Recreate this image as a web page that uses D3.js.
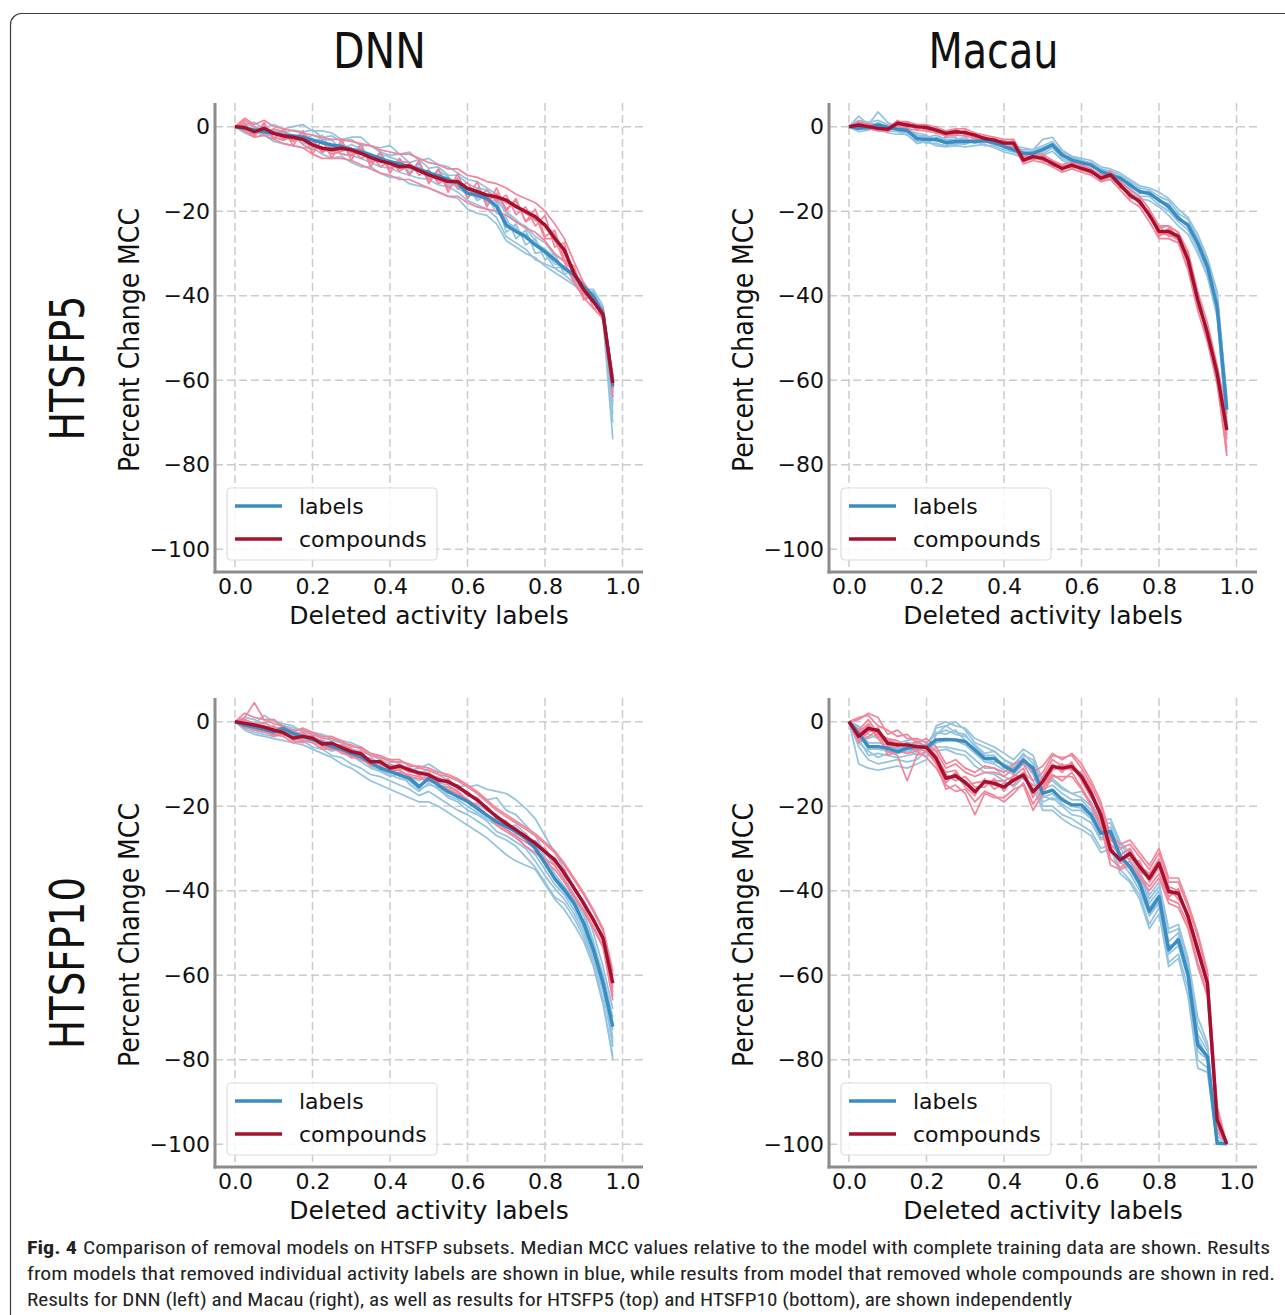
<!DOCTYPE html>
<html>
<head>
<meta charset="utf-8">
<script src="https://cdn.jsdelivr.net/npm/d3@7"></script>
<style>
  html, body { margin: 0; padding: 0; background: #fff; }
  svg { display: block; }
</style>
</head>
<body>
<script>
// ---------- DATA ----------
const fracs = [0,0.025,0.05,0.075,0.1,0.125,0.15,0.175,0.2,0.225,0.25,0.275,0.3,0.325,0.35,0.375,0.4,0.425,0.45,0.475,0.5,0.525,0.55,0.575,0.6,0.625,0.65,0.675,0.7,0.725,0.75,0.775,0.8,0.825,0.85,0.875,0.9,0.925,0.95,0.975];
const xTicks = [0, 0.2, 0.4, 0.6, 0.8, 1.0];
const yTicks = [0, -20, -40, -60, -80, -100];
const colTitles = ["DNN", "Macau"];
const rowTitles = ["HTSFP5", "HTSFP10"];
const legendLabels = ["labels", "compounds"];
const xLabel = "Deleted activity labels";
const yLabel = "Percent Change MCC";

// DNN / HTSFP5
const dnn5LabelsMedian = [0,-0.4,-0.8,-1.2,-1.6,-2,-2.2,-2.5,-3.2,-3.8,-4.3,-4.7,-5.4,-5.9,-6.7,-7.5,-8.3,-8.8,-9.5,-10.1,-10.9,-11.7,-12.5,-13.4,-15.8,-16.2,-17,-18.9,-23.3,-24.8,-26,-28,-29.6,-31.5,-33.5,-35.1,-37.9,-40.2,-44.2,-61.5];
const dnn5CompoundsMedian = [0,-0.2,-1.2,-0.4,-1.6,-2.2,-2.5,-3,-4.3,-5.1,-5.4,-5.1,-5.5,-6.3,-7.3,-8.1,-8.7,-9.5,-9.3,-10.4,-11.4,-12.2,-13,-13,-14.6,-15.4,-16.2,-16.6,-17.4,-18.9,-20.1,-21.3,-23.3,-26.4,-29.2,-34.7,-38.6,-41.4,-44.6,-60.7];
const dnn5LabelsRuns = [
  [0,0.5,1,-0.5,0.5,-0.5,0,0.5,-1,-1,-1.5,-3,-2.5,-2.5,-4.5,-5,-4.5,-6.5,-6,-8,-7.5,-9,-9.5,-11,-12.5,-13,-14.5,-16,-20,-22,-24,-27,-30,-33.5,-33,-36.5,-39.5,-40,-46,-74],
  [0,-1.5,-2.5,-2,-3.5,-4,-4.5,-5,-5,-6.5,-7.5,-7,-8.5,-9.5,-9.5,-11,-12,-12,-13.5,-14,-14.5,-15.5,-16.5,-17,-19.5,-20.5,-21,-23,-27,-28.5,-30,-31,-33,-34.5,-36,-37.5,-39.5,-41.5,-45,-68],
  [0,0.5,-2,0,-3,-0.5,-3.5,-1,-5,-2,-6,-3.5,-7,-4.5,-8.5,-6,-10,-7.5,-11.5,-8.5,-13,-10,-14,-12,-17,-14.5,-18.5,-17,-25,-23,-28,-26.5,-31.5,-30,-35,-33.5,-39.5,-39,-43.5,-65],
  [0,0.2,-1.5,-1,-1,-2.8,-2.5,-1.5,-3,-4,-5,-4.5,-5.8,-6.2,-7,-8,-8.8,-8.5,-10,-10,-11,-12,-12,-14.5,-16,-16,-17.5,-18,-22.5,-24,-26.5,-27.5,-29,-31,-34,-35,-37,-40.5,-44,-62],
  [0,-0.5,-0.8,-1.8,-1.5,-2.2,-3,-2.8,-2.8,-3.8,-4.5,-4.2,-5.2,-5.5,-6.5,-7.8,-8,-9,-9.8,-9.8,-11.2,-11.5,-12.8,-13.2,-15.2,-16.8,-16.5,-19,-23.8,-24.5,-25.5,-28.2,-29.5,-31.5,-33.2,-35.8,-38,-39.5,-43.5,-63],
  [0,0.8,-0.2,-0.5,-0.8,-1.5,-0.8,-1.2,-0.8,-2.5,-2.2,-3.5,-3,-4.5,-4.5,-6,-6.8,-6.5,-8.5,-7.8,-9.8,-9.5,-11.5,-11.5,-13.5,-14.5,-15,-17,-20.5,-22.5,-23.5,-26,-27.5,-30.5,-31.5,-34.5,-37,-41,-44,-70],
  [0,-1.2,-1.8,-0.8,-2.5,-3.2,-2.5,-3.8,-4.5,-5.2,-5.8,-6.5,-6.8,-7.5,-8.5,-9.5,-9.8,-10.8,-11.5,-12.2,-12.5,-13.8,-14.2,-15.5,-17.5,-18.5,-19.5,-21.5,-26,-27.5,-29,-31.5,-32.5,-33.5,-35,-37,-39.5,-41.5,-45.5,-66],
  [0,-0.2,-1,-2.2,-1.8,-1.2,-2,-3.2,-2,-3,-3.2,-5.5,-4.2,-5.2,-7.8,-6.5,-7.2,-8,-10.8,-9,-12,-10.5,-11.8,-14.8,-14.5,-17.5,-16.2,-20.5,-21.5,-26.5,-24.5,-30,-29.5,-32.5,-33,-36,-38.5,-38.5,-42.5,-64]
];
const dnn5CompoundsRuns = [
  [0,2,0.5,1.5,0,-0.5,-1,-1.5,-2,-2.5,-3,-3,-3.5,-4,-4.5,-5.5,-6,-6.5,-6.5,-7.5,-8.5,-9,-10,-10,-11.5,-12,-13,-13.5,-14.5,-16,-17,-18,-20,-23,-26.5,-32,-37,-40,-44,-59],
  [0,-1,-2.5,-2,-3,-4,-4.5,-5,-6.5,-7.5,-7.5,-7.5,-8,-9,-10,-11,-11.5,-12.5,-12.5,-13.5,-14.5,-15.5,-16.5,-16.5,-18,-19,-19.5,-20,-21,-22.5,-24,-25,-27,-30,-32,-37,-40.5,-43,-45.5,-62],
  [0,1,-2.5,1,-3,-0.5,-4.5,-1,-6.5,-3,-7.5,-3,-8,-4,-9.5,-6,-11,-7.5,-11.5,-8,-13.5,-10,-15.5,-11,-17,-13,-19,-14.5,-20,-17,-22.5,-19.5,-26,-24.5,-31.5,-33,-40.5,-40,-45.5,-62],
  [0,0.2,-1.5,-0.2,-1.2,-2,-3.2,-2.8,-4,-5.5,-5.8,-4.8,-5.8,-6,-7.8,-8.2,-8.5,-9.8,-8.8,-10.2,-11,-12.8,-12.8,-12.5,-15,-15.2,-16,-16.2,-18,-19,-20.5,-22,-23,-27,-29.8,-34,-39.5,-41,-45,-63],
  [0,-0.2,-1,-0.8,-1.8,-2.4,-2.6,-3.2,-4.6,-5.2,-5.6,-5.4,-5.2,-6.6,-7.4,-7.8,-8.9,-9.4,-9.6,-10.6,-11.2,-12.4,-13.2,-13.4,-14.4,-15.6,-16.4,-16.8,-17.6,-18.6,-20.4,-21.6,-23.6,-26.2,-28.8,-35,-38.2,-41.8,-44.2,-59],
  [0,1.5,0,-1.5,-0.5,-1.2,-3.5,-2,-3.2,-6.2,-4.5,-6.5,-6.8,-5.2,-8.5,-7,-10,-8.2,-8.5,-11.5,-10.2,-13.5,-12,-14.5,-13.2,-16.8,-15,-17.8,-16.2,-20.8,-19,-23.5,-21,-28.5,-27.5,-36.5,-37,-43,-43,-60],
  [0,-0.8,-2,0.2,-2.5,-3.2,-2,-4.2,-5.5,-4.8,-6.5,-5.8,-5,-7.5,-6.5,-9.5,-8.2,-10.5,-9.2,-9.8,-12.5,-11.2,-14.5,-13,-16,-15,-17.8,-15.8,-19.5,-17.5,-22.5,-21,-26.5,-26.5,-32,-34.2,-41,-40,-46,-64],
  [0,0.2,-0.8,-1.2,-1.5,-2.8,-2.8,-2.2,-4.2,-5.8,-5.2,-4.2,-6.2,-6.2,-7.2,-8.5,-8.2,-9.8,-9.5,-10.2,-11.2,-12.2,-13.2,-12.8,-14.8,-15.8,-16.2,-17.2,-17.2,-19.2,-20.2,-22.2,-23.2,-25.5,-30,-35.2,-38.8,-41.2,-44.8,-62]
];

// Macau / HTSFP5
const macau5LabelsMedian = [0,-0.4,-0.2,0.4,-0.2,-0.6,-0.9,-2.8,-3,-3,-3.8,-3.5,-3.5,-3.5,-3.3,-3.8,-4.7,-5.5,-6.3,-6.3,-5.4,-4.3,-6.7,-7.9,-8.5,-9.1,-10.6,-11.4,-12.2,-13.8,-15.4,-15.8,-17.4,-18.9,-21.7,-23.3,-27.6,-33.1,-42.6,-67];
const macau5CompoundsMedian = [0,0.4,0,-0.4,-0.6,0.8,0.4,0,-0.2,-0.8,-1.6,-1.2,-1.4,-2,-2.8,-3.2,-3.9,-3.9,-7.9,-7.1,-7.5,-8.7,-9.9,-9.1,-9.9,-10.6,-12.2,-11.4,-13.8,-16.2,-17.7,-20.9,-24.8,-24.8,-26,-31.5,-41,-48.9,-58.4,-71.8];
const macau5LabelsRuns = [
  [0,2.5,0.5,3.5,1,0,-0.5,-2,-2.5,-2,-3,-3,-2.5,-4,-2.5,-3,-4,-5,-5.5,-5.5,-4.5,-3.5,-6,-7,-8,-8.5,-10,-10.5,-11.5,-13,-14.5,-15,-16.5,-17.5,-20.5,-22,-26.5,-31.5,-40,-65],
  [0,-0.8,0.5,-0.5,-1,-1.2,-2,-3.5,-3.8,-4,-4.5,-4,-4.2,-3,-4.5,-4.5,-5.5,-6,-7,-7,-6.5,-5,-7.5,-8.5,-9,-10,-11.5,-12,-13,-14.5,-16.5,-16.5,-18.5,-20,-22.5,-24.5,-29,-34.5,-44,-70],
  [0,0.5,-0.8,1,0,-1,-1.5,-2.5,-4,-2.5,-3.2,-4.2,-3,-3.8,-3.8,-3.2,-5,-4.8,-6,-6.8,-6,-4,-6.2,-8.2,-7.8,-9.5,-10.2,-11,-12.8,-13.2,-15.8,-15.2,-17.8,-18.5,-21,-23.8,-27,-32.8,-43,-68],
  [0,-0.2,0,0.8,-0.5,0.2,-1.2,-3.2,-2.8,-3.5,-3.5,-3.2,-4,-3.2,-3,-4.2,-4.2,-5.8,-6.5,-6,-5,-4.8,-7,-7.5,-8.8,-8.8,-11,-11.8,-12,-14.2,-15,-16.2,-17,-19.5,-22,-23,-28,-33.5,-42,-66],
  [0,-0.5,-0.5,0.2,-0.8,-0.4,-0.6,-2.6,-3.4,-3.2,-4,-3.8,-3.6,-3.4,-3.6,-4,-4.8,-5.2,-6,-6.6,-5.8,-4.6,-6.4,-8,-8.2,-9.4,-10.4,-11.6,-12.4,-13.6,-15.2,-16,-17.2,-19,-21.4,-23.6,-27.8,-33.4,-43.4,-72],
  [0,1.5,1,1.5,0.5,0.5,-1,-1.5,-2,-3.5,-2.5,-2.5,-4,-2.5,-3,-3.5,-4.5,-4.5,-5,-5.5,-3,-2.5,-5.5,-7,-7.5,-8,-9.5,-10,-11,-12.5,-14,-14.5,-15.5,-17,-19.5,-21.5,-25.5,-31,-39,-64],
  [0,-1.2,-0.8,-0.2,-1.5,-1.8,-1.8,-4,-3.5,-4.5,-4.8,-4.5,-4.8,-4.5,-4.2,-5,-6,-6.5,-7.5,-7.5,-6.8,-5.8,-8,-9,-9.5,-10.5,-12,-12.5,-13.8,-15.5,-17,-17.5,-19,-21,-23.5,-25.5,-30,-35.5,-45,-71],
  [0,-0.2,0.8,0.5,0.2,-0.8,-0.2,-2.2,-2.2,-3,-3.5,-3,-3,-3.8,-3,-4.5,-4.2,-5,-6.2,-6,-5,-4,-6.8,-7.2,-8.5,-9,-10.8,-11,-12,-14,-15.2,-15.5,-17.5,-18.2,-21.8,-23,-27.2,-32.5,-42.5,-67]
];
const macau5CompoundsRuns = [
  [0,1,0.5,0,-1,1.5,0,0.5,-1,-0.5,-2.5,-0.5,-2,-1.5,-3.5,-2.5,-4.5,-3.5,-8.5,-6.5,-8,-8,-10.5,-8.5,-10.5,-10,-13,-11,-14.5,-15.5,-18.5,-20,-26,-24,-27,-30,-43,-47,-60,-76],
  [0,-0.5,0.8,-1,0,0.2,1,-0.8,0.5,-1.5,-1,-2,-0.8,-2.8,-2.2,-4,-3.5,-4.5,-7.5,-7.8,-7,-9.5,-9.2,-9.8,-9.5,-11.2,-11.5,-12,-13.2,-17,-17,-21.5,-23.5,-26,-25.2,-33,-39.5,-50.5,-57,-70],
  [0,0.8,-0.5,-0.2,-1.2,1,-0.2,0.2,-0.8,0,-1.8,-1.8,-1,-2.2,-3,-3,-4.2,-3.2,-8.2,-7.5,-6.8,-9,-10,-9.5,-9.2,-10.2,-12.8,-11.8,-14,-16.5,-17.2,-21,-25.5,-25.5,-26.8,-32.5,-41.5,-48,-59.5,-78],
  [0,0.2,0.2,-0.8,-0.2,0.5,0.8,-0.5,0.2,-1.2,-1.2,-0.8,-1.8,-2.5,-2.5,-3.5,-3.2,-4.2,-7.2,-6.8,-8.2,-8.2,-9.5,-8.8,-10.2,-11,-11.8,-10.8,-13.5,-16,-18,-20.5,-24,-23.5,-26.5,-31,-40.5,-49.5,-58,-73],
  [0,0.6,0,-0.2,-0.8,0.6,0.2,0.2,-0.4,-1,-1.4,-1.4,-1.6,-1.8,-2.6,-3.4,-3.8,-4,-7.6,-7.4,-7.8,-8.4,-9.6,-9.4,-9.8,-10.8,-12.4,-11.2,-14.2,-16.4,-17.4,-20.6,-25,-25.2,-25.6,-31.8,-42,-48.4,-58.8,-69],
  [0,1.2,0.5,0.5,-0.2,1.2,1.2,0.5,0.5,-0.2,-1,-0.5,-0.5,-1.5,-2,-2.5,-3,-3,-7,-6.5,-6.5,-8,-9,-8.5,-9,-10,-11.5,-10.5,-13,-15,-16.5,-19.5,-23.5,-23.5,-25,-29.5,-39,-46.5,-56.5,-68],
  [0,-0.2,-0.5,-1,-1.2,0.2,-0.5,-0.8,-1,-1.5,-2.2,-2,-2.2,-2.8,-3.5,-4,-4.8,-4.8,-8.8,-8,-8.5,-9.5,-10.8,-10,-10.8,-11.5,-13,-12.5,-15,-17.5,-19,-22.5,-26.5,-26.5,-27.5,-34,-43.5,-51,-61,-77],
  [0,0.5,0.2,-0.5,-0.5,0.8,0.5,0,0,-0.8,-1.5,-1.2,-1.2,-2,-2.8,-3,-3.8,-3.5,-8,-7,-7.2,-8.8,-9.8,-9.2,-10,-10.5,-12,-11.5,-14,-16,-18,-21,-25,-24.5,-26.2,-31,-40.2,-49,-58.2,-74]
];

// DNN / HTSFP10
const dnn10LabelsMedian = [0,-0.8,-1.3,-1.8,-2.4,-1.6,-2.8,-3.5,-4.2,-5,-5.9,-6.5,-7.5,-8.3,-9.7,-11,-11.8,-12.6,-13.4,-15.4,-13.4,-15,-16.6,-17.7,-18.9,-20.5,-22.1,-23.7,-24.8,-26,-27.6,-30,-33.5,-37.1,-39.8,-43,-47.7,-54,-61.9,-72.2];
const dnn10CompoundsMedian = [0,-0.4,-0.8,-1.3,-2,-2.6,-3.9,-3.5,-3.9,-5.3,-5.1,-6.1,-7.1,-7.6,-9.5,-9.5,-11,-10.5,-11.4,-12.1,-12.6,-13.8,-14.2,-15.4,-17,-18.5,-20.5,-22.5,-24.1,-25.6,-27.2,-28.8,-30.8,-32.7,-35.9,-39.4,-43,-46.9,-51.3,-61.9];
const dnn10LabelsRuns = [
  [0,0.5,-0.5,1.5,0,-0.5,-1,-2.5,-3,-3.5,-4.5,-5,-6.5,-7,-8,-9,-10,-11,-11,-12,-11.5,-12.5,-14,-15.5,-15,-17,-18.5,-18,-21,-22,-24.5,-27,-31,-34,-37,-41,-45,-52,-60,-70],
  [0,-1.5,-2.5,-3,-3.5,-3,-4,-4.5,-6,-6.5,-8,-8.5,-10,-11,-12.5,-13,-14,-15,-16,-17.5,-16.5,-18,-19.5,-21,-22,-23.5,-25,-27,-28,-29.5,-32,-34.5,-38,-41.5,-43,-46.5,-51,-57,-66,-80],
  [0,-0.5,-1,-1,-2,-1,-2,-3.5,-3.5,-4.5,-5,-7,-6.5,-9,-8.5,-10,-11.5,-11.5,-13,-14,-12.5,-14.5,-15,-16.5,-19,-19.5,-21,-22.5,-25,-24.5,-26.5,-29,-32,-36,-39,-42,-46,-53,-61,-75],
  [0,-1,-2,-2.5,-1.5,-2.5,-3.5,-3,-5,-5.5,-6.5,-6,-8.5,-8,-10.5,-11.5,-12.5,-13.5,-14,-16,-15,-15.5,-17.5,-18.5,-20,-21.5,-23,-24.5,-26,-27,-29.5,-31.5,-35,-38.5,-41,-44.5,-49,-55.5,-63,-73],
  [0,-0.2,-0.8,-1.5,-2.8,-1.8,-2.5,-4,-4.5,-5.2,-6.2,-6.8,-7.2,-8.8,-9.5,-11.5,-11.2,-13,-12.8,-15,-14,-14.8,-16.2,-18,-18.5,-20.8,-22.5,-23.2,-24.5,-26.5,-27.2,-30.5,-33,-37.5,-40.5,-43.5,-48,-54.5,-62.5,-77],
  [0,1,0.5,-0.5,0.5,-1,-1.5,-2,-2.5,-3,-4,-4.5,-5,-6,-7.5,-8.5,-9,-10,-11.5,-11,-10,-11.5,-13,-14,-15.5,-15,-16,-16.5,-17,-18.5,-20.5,-23,-27,-31,-35,-39,-43.5,-50,-58,-68],
  [0,-2,-3,-3.5,-4,-4.5,-5,-5.5,-6.5,-7.5,-8.5,-10,-11,-12.5,-14,-15,-16,-17,-18,-19,-19,-20,-21.5,-23,-24.5,-26,-27.5,-29.5,-31.5,-33,-34,-35,-38.5,-42,-44.5,-48,-52,-58,-67,-79],
  [0,-0.8,-1.8,-2.2,-3,-2.2,-3.2,-3.2,-4,-5.8,-7,-6.2,-8,-9.5,-11,-11.8,-13,-12.2,-14.8,-16.5,-14.5,-16,-18,-19,-21,-22,-23.5,-26,-27,-28.5,-30,-33,-36.5,-39.5,-42,-45.5,-50,-56,-64,-76]
];
const dnn10CompoundsRuns = [
  [0,1,4.5,0.5,0.5,-1.5,-2,-2,-3,-4,-4,-5,-5.5,-6.5,-8,-8.5,-9.5,-9.5,-10,-11,-11.5,-12.5,-13,-14,-15.5,-17,-19,-21,-22.5,-24,-25.5,-27,-29,-31,-34,-37.5,-41,-45,-49.5,-60],
  [0,-1,-2,-2.5,-3,-3.5,-5,-4.5,-5,-6.5,-6.5,-7,-8.5,-8.5,-10.5,-10.5,-12,-12,-12.5,-13,-13.5,-15,-15.5,-16.5,-18.5,-20,-22,-24,-25.5,-27,-28.5,-30,-32.5,-34,-37.5,-41,-44.5,-48.5,-53,-64],
  [0,0.5,-0.5,-0.2,-1.5,-1.5,-3,-2.5,-4.5,-4.5,-6,-5.5,-6.5,-8,-8.8,-10.2,-10.2,-11.2,-11,-12.8,-12,-14.5,-13.5,-16,-16.5,-19,-20,-23,-23.5,-26.2,-26.5,-29.5,-30,-33.5,-35,-40,-42.5,-47.5,-50.5,-63],
  [0,-0.2,-1.2,-2,-1.8,-2.2,-4.2,-4,-3.2,-5.8,-4.8,-6.5,-7.8,-7.2,-9.8,-9,-11.5,-10.8,-12,-11.8,-13,-13.2,-14.8,-15,-17.5,-18,-21,-22,-24.5,-25.2,-27.8,-28.2,-31.2,-32.2,-36.5,-39,-43.5,-46.5,-52,-62],
  [0,-0.6,-0.4,-1,-2.4,-3,-3.6,-3.2,-4.2,-5,-5.4,-6.4,-6.8,-7.8,-9.2,-9.8,-10.6,-10.2,-11.8,-12.4,-12.2,-14,-14.4,-15.2,-17.2,-18.8,-20.2,-22.8,-24,-25.8,-27,-29.2,-31,-32.8,-35.6,-39.8,-43.2,-47.2,-51.6,-65],
  [0,2,1,0.5,-0.5,-1,-2.5,-1.5,-2.5,-3.5,-3.5,-4.5,-6,-6,-7.5,-8,-9,-9,-10.5,-10.5,-11,-12,-12.5,-13.5,-15,-16.5,-18.5,-20.5,-22,-23.5,-25,-26.5,-28.5,-30.5,-33.5,-37,-40.5,-44.5,-49,-59],
  [0,-1.5,-1.5,-2,-3.5,-2.5,-4.5,-5,-4,-6,-6,-7.5,-8,-9,-10,-11,-11.5,-11.5,-13,-13.5,-14,-15,-16,-17,-18.5,-20,-22,-24.5,-26,-27.5,-29.5,-31,-33,-35,-38,-41.5,-45,-49,-53.5,-66],
  [0,0.2,-1,-1.5,-1,-3,-3.5,-3,-3.5,-5.5,-5,-6,-7.5,-7,-9.5,-9.2,-11,-10.5,-11,-12.5,-12.2,-13.5,-14.5,-15.8,-17,-18.2,-21,-22.5,-23.8,-26,-27.5,-28.5,-30.5,-32.5,-36.2,-39.2,-42.8,-46.8,-51,-62]
];

// Macau / HTSFP10
const macau10LabelsMedian = [0,-2.8,-5.9,-5.9,-6.3,-7.1,-6.3,-5.9,-6.1,-4.3,-4.2,-4.3,-4.7,-6.7,-8.7,-8.7,-10.5,-11.8,-9.1,-11,-17,-16.2,-18.5,-19.7,-19.7,-22.1,-26.4,-26,-31.9,-34.3,-38.2,-44.9,-41.4,-54,-51.6,-59.9,-76.5,-79.3,-99.8,-99.9];
const macau10CompoundsMedian = [0,-3.5,-1.6,-2.1,-5.1,-5.5,-5.5,-5.9,-6.1,-8.7,-13.4,-12.8,-14.4,-16.6,-14.2,-14.6,-15.5,-13.8,-12.6,-16.6,-14.2,-10.6,-11,-10.6,-13,-17,-22.1,-30.4,-32.7,-31.2,-34.3,-37.1,-33.5,-40.2,-40.6,-46.1,-54,-61.9,-94.2,-99.9];
const macau10LabelsRuns = [
  [0,-10,-11,-11.5,-11,-10.5,-11,-10,-9,-3,-1,0,-2,-5,-6,-7,-9,-10,-8,-9,-15,-14,-16,-17,-18,-20,-24,-24,-29,-32,-36,-42,-39,-50,-49,-57,-72,-77,-99,-100],
  [0,-1,-3,-4,-5,-5,-4.5,-4,-5,-3,-2,-3,-3.5,-5.5,-7.5,-7,-9,-10.5,-7.5,-10,-16,-15,-17,-18.5,-18.5,-21,-25,-25,-30,-33,-37,-43,-40,-52,-50,-58,-74,-78,-99,-100],
  [0,-4,-8,-7.5,-8,-8.5,-8,-7.5,-8,-6,-6,-6.5,-7,-9,-11,-11,-13,-14,-12,-14,-20,-20,-22,-23,-24.5,-26,-30,-29,-35,-37.5,-41,-48,-44,-57,-55,-63,-80,-82,-100,-100],
  [0,-2,-5,-5,-5.5,-6.5,-6,-5.5,-6.5,-1.5,-1,-2.5,-3,-6,-8,-8,-11,-11,-8.5,-12,-19,-18,-20,-22,-22.5,-24,-28,-27,-33,-36,-40,-46,-43,-55,-53,-61,-78,-80,-100,-100],
  [0,-3,-6.5,-6.5,-7,-7.5,-7,-6.5,-7,-5,-4.5,-4.5,-5.5,-7.5,-9.5,-10,-11.5,-12.5,-10,-11.5,-18,-17,-19.5,-21,-21,-23,-27.5,-26.5,-32.5,-35,-39,-45.5,-42.5,-53,-52.5,-60.5,-76,-79,-99.5,-100],
  [0,-6,-9,-10,-9.5,-9,-9.5,-9,-7,-1,0,-1,-1.5,-4,-5,-6,-7.5,-9,-6.5,-8,-14,-13.5,-15.5,-17,-16.5,-19,-23.5,-23,-28.5,-31,-35,-41,-38,-49,-48,-56,-70,-76,-98,-100],
  [0,-1.5,-4,-3,-4,-5.5,-5,-5,-6,-7,-6.5,-7.5,-8,-10.5,-12,-12.5,-14,-15.5,-13,-15.5,-21,-21,-23,-24.5,-25.5,-27,-31,-30,-36,-38,-42,-49,-45.5,-58,-56,-65,-82,-83,-100,-100],
  [0,-5,-7,-8.5,-7.5,-6,-6.5,-8,-5,-2.5,-3,-2,-4.5,-7,-9,-9.5,-10,-11,-9.5,-12.5,-17.5,-18.5,-18,-20,-20.5,-22.5,-26.5,-27.5,-31,-34.5,-37.5,-44,-41,-54.5,-51,-59.5,-75,-79.5,-99.5,-100]
];
const macau10CompoundsRuns = [
  [0,0.5,2,1,-3,-2,-4,-4,-5,-7,-11,-10,-12,-13,-12,-12,-13,-11,-10,-14,-12,-8,-8.5,-8,-11,-15,-20,-28,-30,-29,-32,-35,-31,-38,-38,-44,-51,-60,-92,-100],
  [0,-3,-1,-4,-7,-8,-14,-8,-7,-10,-16,-15,-17,-22,-17,-18,-18,-16,-15,-21,-17,-13,-13,-13,-16,-20,-25,-34,-35,-34,-37,-40,-37,-43,-44,-49,-58,-65,-96,-100],
  [0,-2,0.5,-3,-4,-4.5,-6,-7,-5.5,-8,-12.5,-14,-13,-15.5,-15.5,-13.5,-16.5,-12.5,-13.5,-15,-15.5,-11.5,-10,-11.5,-12,-16,-23,-31,-32,-32.5,-33,-38,-34.5,-41.5,-39.5,-47,-55,-62,-95,-100],
  [0,-4.5,-2.5,-1.5,-6,-6,-5,-6.5,-7,-9.5,-14.5,-12,-15.5,-17.5,-13.5,-16,-14.5,-15,-12,-18,-13.5,-10,-12,-9.5,-14,-18,-21,-29.5,-33.5,-30.5,-35.5,-36.5,-33,-39.5,-42,-45.5,-53.5,-61,-93,-100],
  [0,-3.8,-2,-2.5,-5.5,-5.2,-5.8,-5.6,-6.4,-9,-13,-13.2,-14,-16.2,-14.6,-15,-15.2,-14.2,-12.8,-16.2,-14.6,-11,-11.4,-11,-13.4,-17.4,-22.6,-30,-33,-31.6,-34.8,-37.6,-34,-40.6,-41,-46.6,-54.6,-62.4,-94.6,-100],
  [0,1,1.5,-1,-2,-3.5,-3,-5,-4,-6,-10,-9,-11,-12,-10.5,-11,-12,-10,-9,-12,-10.5,-7.5,-9,-7.5,-10,-14,-19,-27,-29,-28,-31,-34,-30,-37,-37,-43,-50,-59,-91,-100],
  [0,-5,-3.5,-2,-8,-7,-7.5,-7,-8.5,-11,-15,-16.5,-16,-19,-16.5,-17.5,-19,-17,-14.5,-19.5,-16,-12.5,-14,-12,-15.5,-19.5,-24,-32.5,-34.5,-33,-36.5,-39,-36,-42,-43,-48,-57,-64,-97,-100],
  [0,-2.5,-0.5,-3.5,-4.5,-5,-6.5,-4.5,-6,-8.5,-12,-11.5,-15,-14.5,-14,-14,-14,-13,-11,-17,-13,-9,-10.5,-10,-12.5,-16.5,-21.5,-29,-31.5,-30,-34,-36,-32.5,-39,-40,-46,-53,-61,-93.5,-100]
];

const captionBold = "Fig. 4";
const captionLines = [
  "Comparison of removal models on HTSFP subsets. Median MCC values relative to the model with complete training data are shown. Results",
  "from models that removed individual activity labels are shown in blue, while results from model that removed whole compounds are shown in red.",
  "Results for DNN (left) and Macau (right), as well as results for HTSFP5 (top) and HTSFP10 (bottom), are shown independently"
];

// ---------- LAYOUT / STYLE ----------
const W = 1285, H = 1315;
const PW = 428, PH = 469;
const panelLeft = [215, 829];
const panelTop = [103, 698];
const C = {
  blueMed: "#3a8dc2", redMed: "#a6102f",
  blueRun: "#93c3df", redRun: "#f2849a",
  grid: "#cccccc", spine: "#8c8c8c"
};
const FONT = "'DejaVu Sans', Verdana, sans-serif";

const panels = [
  {r:0, c:0, lm: dnn5LabelsMedian, cm: dnn5CompoundsMedian, lr: dnn5LabelsRuns, cr: dnn5CompoundsRuns},
  {r:0, c:1, lm: macau5LabelsMedian, cm: macau5CompoundsMedian, lr: macau5LabelsRuns, cr: macau5CompoundsRuns},
  {r:1, c:0, lm: dnn10LabelsMedian, cm: dnn10CompoundsMedian, lr: dnn10LabelsRuns, cr: dnn10CompoundsRuns},
  {r:1, c:1, lm: macau10LabelsMedian, cm: macau10CompoundsMedian, lr: macau10LabelsRuns, cr: macau10CompoundsRuns}
];

const svg = d3.select("body").append("svg")
  .attr("width", W).attr("height", H)
  .attr("font-family", FONT);

svg.append("rect").attr("x", 0).attr("y", 0).attr("width", W).attr("height", H).attr("fill", "#fff");
svg.append("rect")
  .attr("x", 10.5).attr("y", 13.5).attr("width", 1400).attr("height", 1400)
  .attr("rx", 11).attr("fill", "none").attr("stroke", "#3a3a3a").attr("stroke-width", 1.2);

const x = d3.scaleLinear().domain([-0.0516, 1.0529]).range([0, PW]);
const y = d3.scaleLinear().domain([-105.4, 5.6]).range([PH, 0]);
const line = d3.line().x((d, i) => x(fracs[i])).y(d => y(d));

panels.forEach(p => {
  const g = svg.append("g").attr("transform", `translate(${panelLeft[p.c]},${panelTop[p.r]})`);

  // grid
  g.append("g").selectAll("line").data(xTicks).join("line")
    .attr("x1", d => x(d)).attr("x2", d => x(d)).attr("y1", 0).attr("y2", PH)
    .attr("stroke", C.grid).attr("stroke-width", 1.5).attr("stroke-dasharray", "8,4");
  g.append("g").selectAll("line").data(yTicks).join("line")
    .attr("y1", d => y(d)).attr("y2", d => y(d)).attr("x1", 0).attr("x2", PW)
    .attr("stroke", C.grid).attr("stroke-width", 1.5).attr("stroke-dasharray", "8,4");

  // runs
  g.append("g").selectAll("path").data(p.lr).join("path")
    .attr("d", line).attr("fill", "none").attr("stroke", C.blueRun).attr("stroke-width", 1.7)
    .attr("stroke-linejoin", "round");
  g.append("g").selectAll("path").data(p.cr).join("path")
    .attr("d", line).attr("fill", "none").attr("stroke", C.redRun).attr("stroke-width", 1.7)
    .attr("stroke-linejoin", "round");
  // medians
  g.append("path").datum(p.lm).attr("d", line).attr("fill", "none")
    .attr("stroke", C.blueMed).attr("stroke-width", 3.4).attr("stroke-linejoin", "round");
  g.append("path").datum(p.cm).attr("d", line).attr("fill", "none")
    .attr("stroke", C.redMed).attr("stroke-width", 3.4).attr("stroke-linejoin", "round");

  // axes (labels only)
  const ax = g.append("g").attr("transform", `translate(0,${PH})`)
    .call(d3.axisBottom(x).tickValues(xTicks).tickSize(0).tickPadding(6).tickFormat(d3.format(".1f")));
  ax.select(".domain").remove();
  ax.selectAll("text").attr("font-size", 22).attr("font-family", FONT).attr("fill", "#111");

  const ay = g.append("g")
    .call(d3.axisLeft(y).tickValues(yTicks).tickSize(0).tickPadding(5).tickFormat(d3.format("d")));
  ay.select(".domain").remove();
  ay.selectAll("text").attr("font-size", 22).attr("font-family", FONT).attr("fill", "#111");

  // spines
  g.append("line").attr("x1", 0).attr("x2", 0).attr("y1", 0).attr("y2", PH + 1.5)
    .attr("stroke", C.spine).attr("stroke-width", 3);
  g.append("line").attr("x1", -1.5).attr("x2", PW).attr("y1", PH).attr("y2", PH)
    .attr("stroke", C.spine).attr("stroke-width", 3);

  // axis titles
  g.append("text").attr("x", PW / 2).attr("y", PH + 52)
    .attr("text-anchor", "middle").attr("font-size", 25).attr("fill", "#111").text(xLabel);
  g.append("text").attr("transform", `translate(-76,${237}) rotate(-90)`)
    .attr("text-anchor", "middle").attr("font-size", 29).attr("fill", "#111")
    .attr("textLength", 264).attr("lengthAdjust", "spacingAndGlyphs").text(yLabel);

  // legend
  const lg = g.append("g").attr("transform", `translate(12,${PH - 84})`);
  lg.append("rect").attr("width", 210).attr("height", 72).attr("rx", 4)
    .attr("fill", "#fff").attr("fill-opacity", 0.85).attr("stroke", "#dcdcdc").attr("stroke-width", 1.2);
  [C.blueMed, C.redMed].forEach((col, i) => {
    lg.append("line").attr("x1", 8).attr("x2", 55).attr("y1", 18 + i * 33).attr("y2", 18 + i * 33)
      .attr("stroke", col).attr("stroke-width", 3.4);
    lg.append("text").attr("x", 72).attr("y", 26 + i * 33).attr("font-size", 22).attr("fill", "#111")
      .text(legendLabels[i]);
  });
});

// column titles
colTitles.forEach((t, i) => {
  svg.append("text").attr("x", panelLeft[i] + 164.5).attr("y", 68)
    .attr("text-anchor", "middle").attr("font-size", 50).attr("fill", "#111")
    .attr("textLength", i === 0 ? 93 : 130).attr("lengthAdjust", "spacingAndGlyphs").text(t);
});
// row titles
rowTitles.forEach((t, i) => {
  svg.append("text").attr("transform", `translate(84,${panelTop[i] + 265}) rotate(-90)`)
    .attr("text-anchor", "middle").attr("font-size", 48).attr("fill", "#111")
    .attr("textLength", i === 0 ? 145 : 172).attr("lengthAdjust", "spacingAndGlyphs").text(t);
});

// caption
const CAPFONT = "'Liberation Sans Narrow', 'Roboto Condensed', 'Liberation Sans', sans-serif";
svg.append("text").attr("x", 27).attr("y", 1254).attr("font-family", CAPFONT)
  .attr("font-size", 19).attr("font-weight", "bold").attr("fill", "#222")
  .attr("textLength", 50).attr("lengthAdjust", "spacingAndGlyphs").text(captionBold);
const capSpec = [{x: 83, y: 1254, len: 1187}, {x: 27, y: 1280, len: 1248}, {x: 27, y: 1306, len: 1045}];
captionLines.forEach((t, i) => {
  svg.append("text").attr("x", capSpec[i].x).attr("y", capSpec[i].y).attr("font-family", CAPFONT)
    .attr("font-size", 19).attr("fill", "#222")
    .attr("textLength", capSpec[i].len).attr("lengthAdjust", "spacingAndGlyphs").text(t);
});
</script>
</body>
</html>
